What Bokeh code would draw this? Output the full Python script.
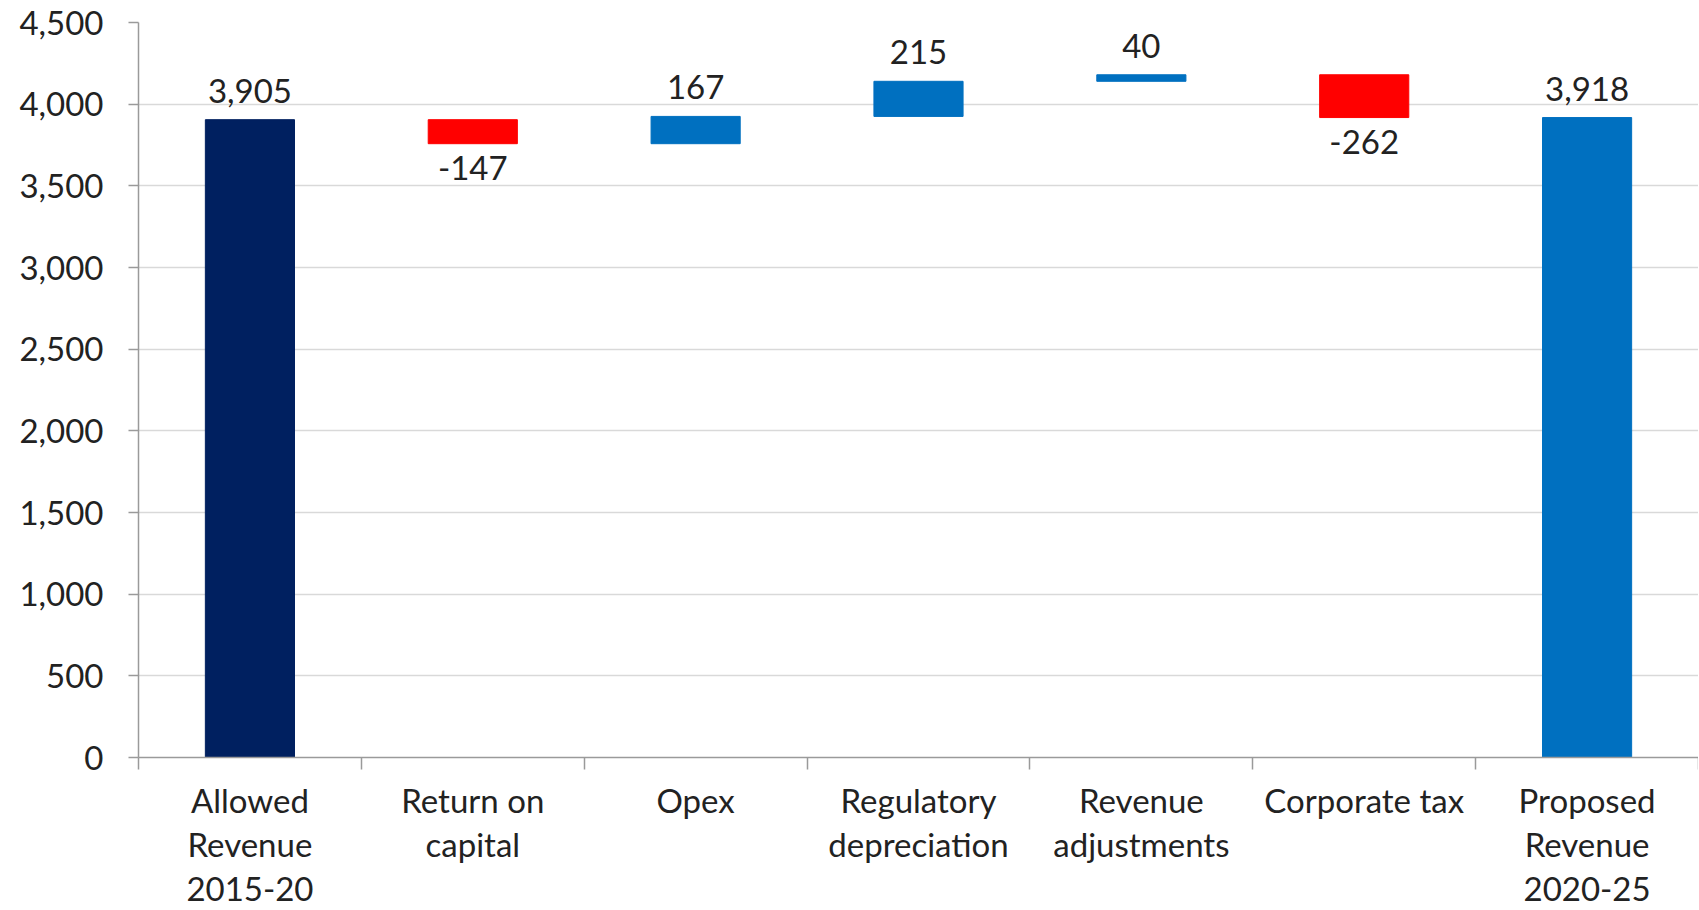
from bokeh.plotting import figure
from bokeh.models import FixedTicker, NumeralTickFormatter, Range1d, ColumnDataSource
from bokeh.embed import file_html
from bokeh.resources import INLINE
from bokeh.core.properties import value

# ---- data ----
categories = ["Allowed\nRevenue\n2015-20", "Return on\ncapital", "Opex",
              "Regulatory\ndepreciation", "Revenue\nadjustments",
              "Corporate tax", "Proposed\nRevenue\n2020-25"]
values = [3905, -147, 167, 215, 40, -262, 3918]
is_total = [True, False, False, False, False, False, True]
y_ticks = [0, 500, 1000, 1500, 2000, 2500, 3000, 3500, 4000, 4500]

# ---- waterfall geometry from data ----
n = len(categories)
xs = [i + 0.5 for i in range(n)]
bottoms, tops, colors = [], [], []
running = 0
for i, (v, tot) in enumerate(zip(values, is_total)):
    if tot:
        b, t = 0, v
        running = v
        colors.append("#002060" if i == 0 else "#0070C0")
    else:
        b, t = min(running, running + v), max(running, running + v)
        running += v
        colors.append("#0070C0" if v > 0 else "#FF0000")
    bottoms.append(b)
    tops.append(t)

labels = [f"{v:,}" for v in values]
up = [i for i, v in enumerate(values) if v >= 0]
down = [i for i, v in enumerate(values) if v < 0]

FONT = "Lato"
FS = "33px"
TXT = "#222222"

p = figure(width=1698, height=910, output_backend="svg", toolbar_location=None,
           x_range=Range1d(0, n), y_range=Range1d(0, 4500),
           min_border_left=138, min_border_right=0, min_border_top=22,
           min_border_bottom=150)
p.outline_line_color = None
p.background_fill_color = "white"
p.border_fill_color = "white"

p.vbar(x=xs, width=0.4, bottom=bottoms, top=tops, fill_color=colors,
       line_color=colors, line_width=1)

src_up = ColumnDataSource(dict(x=[xs[i] for i in up], y=[tops[i] for i in up],
                               t=[labels[i] for i in up]))
src_dn = ColumnDataSource(dict(x=[xs[i] for i in down], y=[bottoms[i] for i in down],
                               t=[labels[i] for i in down]))
p.text(x="x", y="y", text="t", source=src_up, text_align="center",
       text_baseline="bottom", y_offset=-17, text_font=value(FONT),
       text_font_size=FS, text_color=TXT)
p.text(x="x", y="y", text="t", source=src_dn, text_align="center",
       text_baseline="top", y_offset=12, text_font=value(FONT),
       text_font_size=FS, text_color=TXT)

# y axis
ya = p.yaxis[0]
ya.ticker = FixedTicker(ticks=y_ticks)
ya.formatter = NumeralTickFormatter(format="0,0")
ya.major_tick_out = 10
ya.major_tick_in = 0
ya.minor_tick_line_color = None
ya.axis_line_color = "#9A9A9A"
ya.axis_line_width = 1.5
ya.major_tick_line_color = "#9A9A9A"
ya.major_tick_line_width = 1.5
ya.major_label_text_font = FONT
ya.major_label_text_font_size = FS
ya.major_label_text_color = TXT
ya.major_label_standoff = 25

# x axis
xa = p.xaxis[0]
xa.ticker = FixedTicker(ticks=xs, minor_ticks=list(range(n + 1)))
xa.major_label_overrides = {x: c for x, c in zip(xs, categories)}
xa.major_tick_line_color = None
xa.major_tick_out = 12
xa.major_tick_in = 0
xa.minor_tick_out = 12
xa.minor_tick_in = 0
xa.minor_tick_line_color = "#9A9A9A"
xa.minor_tick_line_width = 1.5
xa.axis_line_color = "#9A9A9A"
xa.axis_line_width = 1.5
xa.major_label_text_font = FONT
xa.major_label_text_font_size = FS
xa.major_label_text_color = TXT
xa.major_label_text_line_height = 1.1
xa.major_label_standoff = 10

p.xgrid.visible = False
p.ygrid.grid_line_color = "#D9D9D9"
p.ygrid.grid_line_width = 1.5

open("out.html", "w").write(file_html(p, INLINE))
